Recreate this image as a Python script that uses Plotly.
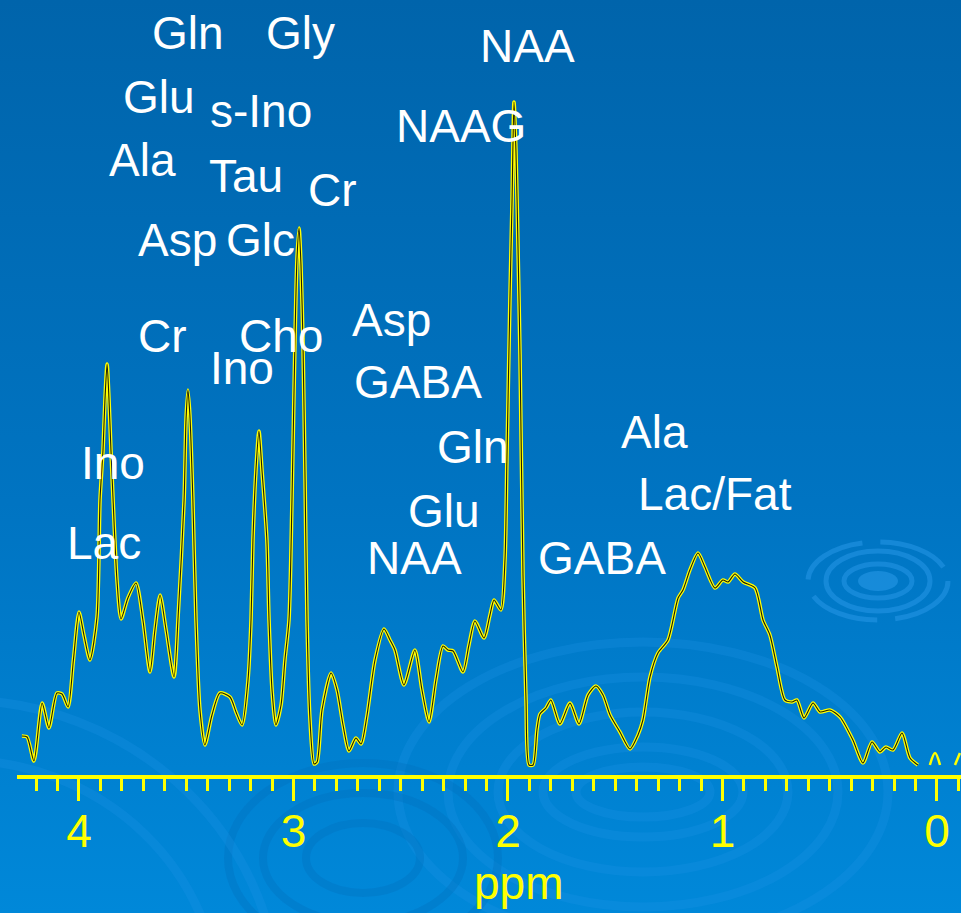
import base64
import plotly.graph_objects as go

# Proton MR spectrum (chemical shift in ppm, signal in arbitrary units)
ppm = [4.266, 4.242, 4.210, 4.172, 4.140, 4.103, 4.079, 4.051, 4.026, 4.000,
       3.977, 3.949, 3.916, 3.902, 3.888, 3.879, 3.869, 3.860, 3.851, 3.841,
       3.823, 3.804, 3.772, 3.734, 3.702, 3.669, 3.646, 3.622, 3.594, 3.557,
       3.538, 3.510, 3.501, 3.492, 3.483, 3.469, 3.455, 3.436, 3.413, 3.380,
       3.343, 3.296, 3.268, 3.240, 3.212, 3.198, 3.189, 3.175, 3.161, 3.147,
       3.124, 3.114, 3.100, 3.082, 3.058, 3.040, 3.021, 3.007, 2.993, 2.984,
       2.974, 2.965, 2.956, 2.946, 2.937, 2.923, 2.904, 2.890, 2.867, 2.825,
       2.797, 2.769, 2.741, 2.709, 2.685, 2.657, 2.620, 2.578, 2.550, 2.527,
       2.485, 2.434, 2.401, 2.368, 2.336, 2.303, 2.280, 2.256, 2.210, 2.182,
       2.154, 2.112, 2.084, 2.065, 2.033, 2.014, 2.005, 1.991, 1.981, 1.972,
       1.963, 1.953, 1.944, 1.930, 1.916, 1.902, 1.883, 1.865, 1.851, 1.823,
       1.800, 1.758, 1.711, 1.669, 1.627, 1.590, 1.557, 1.524, 1.478, 1.431,
       1.394, 1.371, 1.338, 1.301, 1.254, 1.207, 1.184, 1.152, 1.114, 1.082,
       1.035, 0.998, 0.974, 0.942, 0.904, 0.848, 0.811, 0.779, 0.746, 0.709,
       0.676, 0.653, 0.620, 0.578, 0.545, 0.499, 0.452, 0.392, 0.345, 0.303,
       0.266, 0.238, 0.205, 0.163, 0.126, 0.089]
signal = [41, 40, 16, 74, 49, 84, 83, 70, 117, 165,
          142, 117, 160, 277, 327, 377, 413, 377, 327, 277,
          197, 158, 179, 194, 157, 105, 147, 182, 147, 100,
          160, 277, 357, 387, 362, 277, 160, 67, 32, 62,
          84, 80, 65, 52, 97, 157, 237, 307, 346, 307,
          237, 157, 87, 52, 72, 117, 157, 277, 437, 517,
          549, 512, 437, 297, 157, 57, 13, 15, 67, 104,
          87, 52, 26, 39, 33, 62, 117, 148, 137, 127,
          92, 127, 87, 55, 97, 131, 127, 126, 105, 132,
          156, 139, 162, 177, 167, 217, 317, 477, 577, 675,
          627, 527, 423, 202, 77, 12, 12, 47, 63, 69,
          77, 53, 74, 53, 82, 91, 82, 62, 45, 28,
          42, 57, 100, 124, 137, 179, 187, 207, 224, 210,
          189, 197, 195, 203, 195, 189, 157, 142, 110, 77,
          75, 77, 59, 74, 65, 67, 60, 37, 14, 35,
          25, 30, 27, 44, 19, 12]

# Small reference bumps near 0 ppm
ref_ppm = [0.033, 0.009, -0.014, None, -0.084, -0.107]
ref_signal = [12, 24, 12, None, 12, 24]

# Metabolite assignments: (label, ppm, height)
labels = [
    ("Gln", 3.492, 744), ("Gly", 2.965, 744), ("NAA", 1.907, 731),
    ("Glu", 3.627, 680), ("s-Ino", 3.152, 666), ("NAAG", 2.219, 651),
    ("Ala", 3.702, 617), ("Tau", 3.221, 601), ("Cr", 2.816, 587),
    ("Asp", 3.543, 537), ("Glc", 3.156, 537),
    ("Cr", 3.613, 441), ("Cho", 3.058, 441), ("Ino", 3.240, 409),
    ("Asp", 2.545, 457), ("GABA", 2.420, 395),
    ("Ino", 3.841, 314), ("Gln", 2.163, 330), ("Ala", 1.315, 345),
    ("Lac/Fat", 1.035, 283), ("Glu", 2.298, 266),
    ("Lac", 3.883, 234), ("NAA", 2.438, 219), ("GABA", 1.562, 219),
]

tick_vals = [0, 1, 2, 3, 4]
tick_text = ["0", "1", "2", "3", "4"]
axis_title = "ppm"

W, H = 961, 913
YELLOW = "#FFFF00"
FONT = "Liberation Sans, Arial, sans-serif"

# Backdrop: vertical blue gradient with faint water-ripple rings
def rings(cx, cy, radii, color, opacity, width, dash=None):
    out = []
    for rx, ry in radii:
        d = f" stroke-dasharray='{dash}'" if dash else ""
        out.append(f"<ellipse cx='{cx}' cy='{cy}' rx='{rx}' ry='{ry}' fill='none' "
                   f"stroke='{color}' stroke-opacity='{opacity}' stroke-width='{width}'{d}/>")
    return "".join(out)

svg = (
    f"<svg xmlns='http://www.w3.org/2000/svg' width='{W}' height='{H}' viewBox='0 0 {W} {H}' preserveAspectRatio='none'>"
    "<defs><linearGradient id='g' x1='0' y1='0' x2='0' y2='1'>"
    "<stop offset='0' stop-color='#0064AB'/><stop offset='0.55' stop-color='#0074C2'/>"
    "<stop offset='1' stop-color='#0088D9'/></linearGradient></defs>"
    f"<rect width='{W}' height='{H}' fill='url(#g)'/>"
    + rings(878, 581, [(70, 39)], "#2A9AEA", 0.5, 5, "70 18")
    + rings(878, 581, [(52, 30), (34, 17)], "#2A9AEA", 0.5, 5)
    + "<ellipse cx='878' cy='581' rx='20' ry='10' fill='#2A9AEA' fill-opacity='0.55'/>"
    + rings(643, 792, [(67, 25), (100, 45), (145, 80), (195, 115), (245, 150)], "#1C95E6", 0.28, 9)
    + rings(363, 858, [(57, 35), (100, 65), (135, 95)], "#0070BE", 0.35, 8)
    + rings(-40, 1010, [(260, 250), (320, 310)], "#1C95E6", 0.28, 9)
    + "</svg>"
)
bg_src = "data:image/svg+xml;base64," + base64.b64encode(svg.encode()).decode()

ml, mr, mt, mb = 17, 0, 0, 138
pw, ph = W - ml - mr, H - mt - mb

fig = go.Figure()
fig.add_trace(go.Scatter(x=ppm, y=signal, mode="lines",
                         line=dict(color=YELLOW, width=3.6, shape="spline", smoothing=0.7),
                         hoverinfo="skip", showlegend=False))
fig.add_trace(go.Scatter(x=ppm, y=signal, mode="lines",
                         line=dict(color="#1E1E00", width=1.1, shape="spline", smoothing=0.7),
                         hoverinfo="skip", showlegend=False))
fig.add_trace(go.Scatter(x=ref_ppm, y=ref_signal, mode="lines",
                         line=dict(color=YELLOW, width=2.5, shape="spline"),
                         hoverinfo="skip", showlegend=False, connectgaps=False))

for text, x, y in labels:
    fig.add_annotation(x=x, y=y, xref="x", yref="y", text=text, showarrow=False,
                       xanchor="center", yanchor="middle",
                       font=dict(family=FONT, size=46, color="white"))

# Axis unit label, set slightly right of the plot centre
fig.add_annotation(x=1.953, y=-108 / ph, xref="x", yref="paper", text=axis_title,
                   showarrow=False, xanchor="center", yanchor="middle",
                   font=dict(family=FONT, size=46, color=YELLOW))

fig.update_layout(
    width=W, height=H,
    margin=dict(l=ml, r=mr, t=mt, b=mb, pad=0),
    paper_bgcolor="#0076C4", plot_bgcolor="rgba(0,0,0,0)",
    images=[dict(source=bg_src, xref="paper", yref="paper",
                 x=-ml / pw, y=1 + mt / ph, sizex=W / pw, sizey=H / ph,
                 xanchor="left", yanchor="top", sizing="stretch", layer="below")],
    xaxis=dict(range=[4.289, -0.112], showgrid=False, zeroline=False,
               showline=True, linecolor=YELLOW, linewidth=4,
               tickmode="array", tickvals=tick_vals, ticktext=tick_text,
               ticks="outside", ticklen=22, tickwidth=3, tickcolor=YELLOW,
               ticklabelstandoff=-9,
               tickfont=dict(family=FONT, size=46, color=YELLOW),
               minor=dict(dtick=0.1, ticks="outside", ticklen=12, tickwidth=2.5,
                          tickcolor=YELLOW, showgrid=False)),
    yaxis=dict(range=[2, 777], visible=False, fixedrange=True),
)

fig.write_html("out.html")
